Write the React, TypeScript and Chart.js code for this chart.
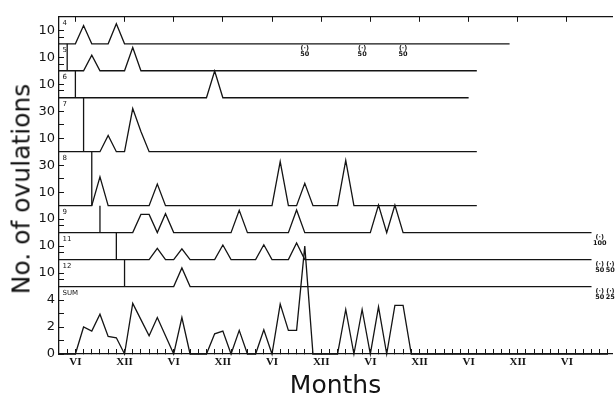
import { useEffect, useRef } from 'react';
import { Chart, registerables } from 'chart.js';

Chart.register(...registerables);

const INK = '#141414';

// month index: 0 = first June (VI); months run from FIRST_MONTH
const FIRST_MONTH = -2;
const X_MIN = -2;
const X_MAX = 65.5;

const SEASON_TICKS = [0, 6, 12, 18, 24, 30, 36, 42, 48, 54, 60];
const SEASON_LABELS = ['VI', 'XII', 'VI', 'XII', 'VI', 'XII', 'VI', 'XII', 'VI', 'XII', 'VI'];

// panel names, top to bottom
const PANEL_NAMES = ['4', '5', '6', '7', '8', '9', '11', '12', 'SUM'];

// [month, value] – months not listed are 0
const P4_PEAKS = [[1, 13.5], [5, 14.8]];
const P5_PEAKS = [[2, 11.6], [7, 17.3]];
const P6_PEAKS = [[17, 19.8]];
const P7_PEAKS = [[4, 12], [7, 32], [8, 15]];
const P8_PEAKS = [[3, 21.4], [10, 16], [25, 32.7], [28, 16.5], [33, 33.5]];
const P9_PEAKS = [[8, 13.5], [9, 13.5], [11, 14], [20, 16.5], [27, 16.8], [37, 20.5], [39, 20.5]];
const P11_PEAKS = [[10, 8.4], [13, 7.9], [18, 10.8], [23, 11], [27, 12.3]];
const P12_PEAKS = [[13, 13.8]];
const SUM_VALUES = [
  [1, 2.0], [2, 1.7], [3, 2.95], [4, 1.3], [5, 1.2], [7, 3.75], [8, 2.55], [9, 1.35],
  [10, 2.7], [11, 1.35], [13, 2.7], [17, 1.5], [18, 1.7], [20, 1.75], [23, 1.8],
  [25, 3.7], [26, 1.75], [27, 1.75], [28, 8], [33, 3.3], [35, 3.3], [37, 3.5], [39, 3.6], [40, 3.6],
];

// month when each record starts (vertical bar) and ends
const RECORD_START = [null, -1, 0, 1, 2, 3, 5, 6, null];
const RECORD_END = [53, 49, 48, 49, 49, 63, 63, 63, 65];

// axis ranges per panel
const PANEL_MAX = [20, 20, 20, 40, 40, 20, 20, 20, 5];
const PANEL_TICKS = [[5, 10], [5, 10], [5, 10], [10, 20, 30], [10, 20, 30], [5, 10], [5, 10], [5, 10], [0, 1, 2, 3, 4, 5]];
const PANEL_TICK_LABELS = [[10], [10], [10], [10, 30], [10, 30], [10], [10], [10], [0, 2, 4]];

// markers below the record lines: [month, number]
const P4_MARKS = [[28, '50'], [35, '50'], [40, '50']];
const P9_MARKS = [[64, '100']];
const P11_MARKS = [[64, '50'], [65.3, '50']];
const P12_MARKS = [[64, '50'], [65.3, '25']];

const PANEL_DATA = [P4_PEAKS, P5_PEAKS, P6_PEAKS, P7_PEAKS, P8_PEAKS, P9_PEAKS, P11_PEAKS, P12_PEAKS, SUM_VALUES];
const PANEL_MARKS = [P4_MARKS, [], [], [], [], P9_MARKS, P11_MARKS, P12_MARKS, []];

const axisId = (i: number) => 'y' + PANEL_NAMES[i];

function buildSeries(peaks: number[][], end: number) {
  const pts: { x: number; y: number }[] = [];
  for (let m = FIRST_MONTH; m <= end; m++) {
    const p = peaks.find((q) => q[0] === m);
    pts.push({ x: m, y: p ? p[1] : 0 });
  }
  return pts;
}

const textPlugin = {
  id: 'panelText',
  afterDraw(chart: any) {
    const { ctx, chartArea } = chart;
    const xs = chart.scales.x;
    ctx.save();
    ctx.fillStyle = INK;
    ctx.textBaseline = 'top';
    ctx.textAlign = 'left';
    ctx.font = '7px "DejaVu Sans"';
    PANEL_NAMES.forEach((name, i) => {
      const ys = chart.scales[axisId(i)];
      ctx.fillText(name, chartArea.left + 3.5, ys.top + 3);
    });
    ctx.textAlign = 'center';
    ctx.font = 'bold 6.5px "DejaVu Sans"';
    PANEL_MARKS.forEach((marks, i) => {
      const ys = chart.scales[axisId(i)];
      marks.forEach((mk: any) => {
        const x = xs.getPixelForValue(mk[0]);
        const y = ys.getPixelForValue(0) + 1.5;
        ctx.fillText('(·)', x, y);
        ctx.fillText(mk[1], x, y + 6);
      });
    });
    ctx.restore();
  },
};

export default function App() {
  const ref = useRef<HTMLCanvasElement>(null);

  useEffect(() => {
    const datasets: any[] = [];
    PANEL_NAMES.forEach((_, i) => {
      datasets.push({
        data: buildSeries(PANEL_DATA[i], RECORD_END[i]),
        xAxisID: 'x',
        yAxisID: axisId(i),
        borderColor: INK,
        borderWidth: 1.3,
        pointRadius: 0,
        tension: 0,
        fill: false,
        clip: false,
      });
      const s = RECORD_START[i];
      if (s !== null) {
        datasets.push({
          data: [{ x: s, y: 0 }, { x: s, y: PANEL_MAX[i] }],
          xAxisID: 'x',
          yAxisID: axisId(i),
          borderColor: INK,
          borderWidth: 1.3,
          pointRadius: 0,
          fill: false,
          clip: false,
        });
      }
    });

    const scales: any = {
      x: {
        type: 'linear',
        position: 'bottom',
        min: X_MIN,
        max: X_MAX,
        afterFit: (s: any) => { s.height = 41; },
        afterBuildTicks: (s: any) => {
          const t = [];
          for (let m = Math.ceil(X_MIN); m <= X_MAX; m++) t.push({ value: m });
          s.ticks = t;
        },
        grid: { drawOnChartArea: false, drawTicks: true, tickLength: -5, color: INK, lineWidth: 1 },
        border: { display: true, color: INK, width: 1.3 },
        ticks: {
          autoSkip: false,
          maxRotation: 0,
          padding: 7,
          color: INK,
          font: { family: '"Liberation Serif"', size: 11, weight: 'bold' },
          callback: (v: number) => {
            const k = SEASON_TICKS.indexOf(v);
            return k >= 0 ? SEASON_LABELS[k] : '';
          },
        },
        title: {
          display: true,
          text: 'Months',
          color: INK,
          font: { family: '"DejaVu Sans"', size: 25, lineHeight: 0.7 },
          padding: 0,
        },
      },
      xTop: {
        type: 'linear',
        position: 'top',
        min: X_MIN,
        max: X_MAX,
        afterFit: (s: any) => { s.height = 12; },
        afterBuildTicks: (s: any) => { s.ticks = SEASON_TICKS.map((v) => ({ value: v })); },
        grid: { drawOnChartArea: false, drawTicks: true, tickLength: -5, color: INK, lineWidth: 1 },
        border: { display: true, color: INK, width: 1.3 },
        ticks: { display: false },
      },
    };

    PANEL_NAMES.forEach((name, i) => {
      scales[axisId(i)] = {
        type: 'linear',
        position: 'left',
        stack: 'panels',
        stackWeight: PANEL_MAX[i] === 40 ? 2 : name === 'SUM' ? 2.5 : 1,
        weight: PANEL_NAMES.length - i,
        min: 0,
        max: PANEL_MAX[i],
        afterFit: (s: any) => { s.width = 51; },
        afterBuildTicks: (s: any) => { s.ticks = PANEL_TICKS[i].map((v) => ({ value: v })); },
        grid: { drawOnChartArea: false, drawTicks: true, tickLength: -5, color: INK, lineWidth: 1 },
        border: { display: true, color: INK, width: 1.3 },
        ticks: {
          autoSkip: false,
          padding: 9,
          color: INK,
          font: { family: '"DejaVu Sans"', size: 13 },
          callback: (v: number) => (PANEL_TICK_LABELS[i].includes(v) ? String(v) : ''),
        },
      };
    });

    const chart = new Chart(ref.current as HTMLCanvasElement, {
      type: 'line',
      data: { datasets },
      options: {
        responsive: false,
        animation: false,
        layout: { padding: { left: 8, right: 3, top: 0, bottom: 0 } },
        plugins: { legend: { display: false }, tooltip: { enabled: false } },
        scales,
      },
      plugins: [textPlugin],
    } as any);
    return () => chart.destroy();
  }, []);

  return (
    <div style={{ position: 'absolute', left: 0, top: 0, width: 615, height: 395, background: '#fff' }}>
      <canvas ref={ref} width={615} height={395} style={{ display: 'block', width: 615, height: 395 }} />
      <div
        style={{
          position: 'absolute',
          left: 21,
          top: 189,
          transform: 'translate(-50%, -50%) rotate(-90deg)',
          font: '25px "DejaVu Sans"',
          lineHeight: 1,
          whiteSpace: 'nowrap',
          color: INK,
        }}
      >
        No. of ovulations
      </div>
    </div>
  );
}
